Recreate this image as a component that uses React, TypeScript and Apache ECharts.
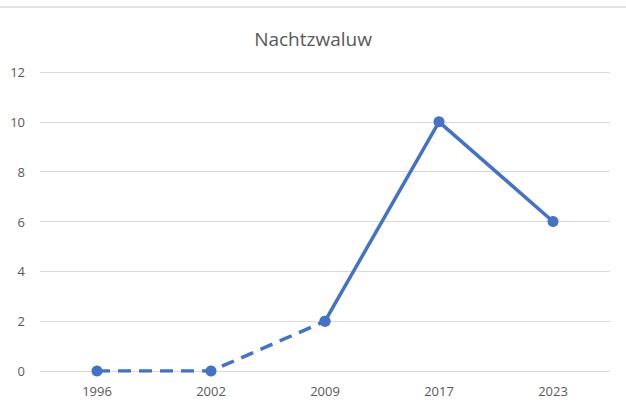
import React, { useEffect, useRef } from "react";
import * as echarts from "echarts";

const title = "Nachtzwaluw";
const categories = ["1996", "2002", "2009", "2017", "2023"];
const dashedValues: (number | null)[] = [0, 0, 2, null, null];
const solidValues: (number | null)[] = [null, null, 2, 10, 6];
const yTicks = { min: 0, max: 12, interval: 2 };

export default function App() {
  const ref = useRef<HTMLDivElement>(null);
  useEffect(() => {
    document.body.style.margin = "0";
    const chart = echarts.init(ref.current!, null, { renderer: "svg" });
    const font = "'Open Sans', 'Noto Sans', sans-serif";
    const color = "#4472C4";
    chart.setOption({
      animation: false,
      backgroundColor: "#ffffff",
      title: {
        text: title,
        left: "center",
        top: 24,
        textStyle: { fontFamily: font, fontSize: 19, fontWeight: "normal", color: "#595959" },
      },
      graphic: [
        {
          type: "line",
          shape: { x1: 0, y1: 7, x2: 626, y2: 7 },
          style: { stroke: "#d9d9d9", lineWidth: 1.5 },
        },
      ],
      grid: { left: 40, right: 16, top: 72, bottom: 36 },
      xAxis: {
        type: "category",
        data: categories,
        boundaryGap: true,
        axisLine: { show: true, lineStyle: { color: "#d9d9d9", width: 1 } },
        axisTick: { show: false },
        axisLabel: { fontFamily: font, fontSize: 13, color: "#595959", margin: 13 },
      },
      yAxis: {
        type: "value",
        min: yTicks.min,
        max: yTicks.max,
        interval: yTicks.interval,
        axisLine: { show: false },
        axisTick: { show: false },
        splitLine: { lineStyle: { color: "#d9d9d9", width: 1 } },
        axisLabel: { fontFamily: font, fontSize: 13, color: "#595959", margin: 15 },
      },
      series: [
        {
          type: "line",
          data: dashedValues,
          symbol: "circle",
          symbolSize: 11,
          itemStyle: { color },
          lineStyle: { color, width: 3.5, type: [13, 8] },
          connectNulls: false,
        },
        {
          type: "line",
          data: solidValues,
          symbol: "circle",
          symbolSize: 11,
          itemStyle: { color },
          lineStyle: { color, width: 3.5 },
          connectNulls: false,
        },
      ],
    });
    return () => chart.dispose();
  }, []);
  return <div ref={ref} style={{ position: "absolute", left: 0, top: 0, width: 626, height: 407 }} />;
}
